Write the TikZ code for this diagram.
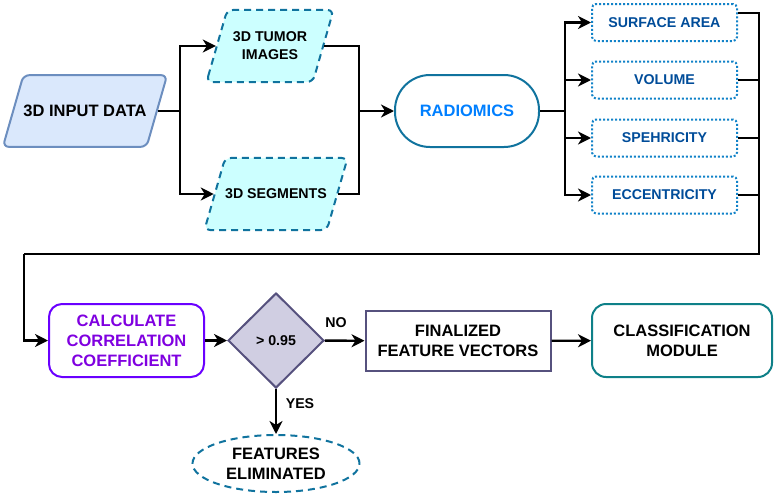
\documentclass[tikz,border=0pt]{standalone}
\usepackage{fontspec}
\setmainfont{Liberation Sans}
\usetikzlibrary{arrows.meta,shapes.geometric}

\definecolor{inFill}{HTML}{DAE8FC}
\definecolor{inLine}{HTML}{6C8EBF}
\definecolor{cyFill}{HTML}{CCFFFF}
\definecolor{cyLine}{HTML}{10739E}
\definecolor{radText}{HTML}{007FFF}
\definecolor{featLine}{HTML}{1182C8}
\definecolor{featText}{HTML}{004C99}
\definecolor{purLine}{HTML}{6A00FF}
\definecolor{purText}{HTML}{7F00E0}
\definecolor{decFill}{HTML}{D0CEE2}
\definecolor{decLine}{HTML}{56517E}
\definecolor{tealLine}{HTML}{0E8088}

\tikzset{
    big/.style={font=\fontsize{16.5}{20}\selectfont\bfseries, align=center},
    small/.style={font=\fontsize{14.2}{18}\selectfont\bfseries, align=center},
    para/.style={trapezium, trapezium left angle=74, trapezium right angle=106,
        trapezium stretches body=true, rounded corners=6pt, line width=2pt, inner xsep=0pt},
    featbox/.style={draw=featLine, line width=2pt, dash pattern=on 2pt off 2pt, rounded corners=4pt,
        minimum width=145pt, minimum height=37pt, text=featText,
        font=\fontsize{14.2}{17}\selectfont\bfseries},
    line/.style={line width=2.4pt},
    arr/.style={line width=2.4pt, -{Stealth[length=13pt,width=13pt,inset=4pt]}},
}

\begin{document}
\begin{tikzpicture}[x=1pt,y=-1pt]
    \useasboundingbox (0,0) rectangle (776,498);

    % input and its two parts
    \node[para, big, draw=inLine, fill=inFill, minimum width=163pt, inner ysep=30pt] (in) at (85,111) {3D INPUT DATA};
    \node[para, small, draw=cyLine, fill=cyFill, dash pattern=on 7pt off 5pt,
        minimum width=127pt, inner ysep=22pt] (tumor) at (270,46) {3D TUMOR\\IMAGES};
    \node[para, small, draw=cyLine, fill=cyFill, dash pattern=on 7pt off 5pt,
        minimum width=139pt, inner ysep=31pt] (seg) at (276,194) {3D SEGMENTS};

    \coordinate (j1) at (180,111);
    \coordinate (j2) at (359,111);
    \draw[line] (in) -- (j1);
    \draw[arr] (j1) |- (tumor);
    \draw[arr] (j1) |- (seg);
    \draw[line] (tumor) -| (j2);
    \draw[line] (seg) -| (j2);

    % radiomics features
    \node[big, draw=cyLine, line width=2pt, rounded corners=35pt, text=radText,
        minimum width=144pt, minimum height=72pt] (rad) at (467,111) {RADIOMICS};
    \draw[arr] (j2) -- (rad);

    \node[featbox] (sa) at (664.5,22.5) {SURFACE AREA};
    \node[featbox] (vol) at (664.5,80) {VOLUME};
    \node[featbox] (sph) at (664.5,138) {SPEHRICITY};
    \node[featbox] (ecc) at (664.5,195) {ECCENTRICITY};

    \coordinate (j3) at (565,111);
    \draw[line] (rad) -- (j3);
    \foreach \n in {sa,vol,sph,ecc}
        \draw[arr] (j3) |- (\n);

    \coordinate (k1) at (759,13);
    \coordinate (k2) at (24,254);
    \draw[line] ([yshift=9.5pt]sa.east) -- (k1) -- (k1 |- k2) -- (k2);
    \foreach \n in {vol,sph,ecc}
        \draw[line] (\n) -- (\n -| k1);

    % selection of features
    \node[big, draw=purLine, line width=2pt, rounded corners=13pt, text=purText,
        minimum width=155pt, minimum height=73pt] (calc) at (126.5,340.5) {CALCULATE\\CORRELATION\\COEFFICIENT};
    \draw[arr] (k2) |- (calc);

    \node[diamond, small, draw=decLine, fill=decFill, line width=2pt, inner sep=0pt,
        minimum width=96pt, minimum height=95pt] (dec) at (276,340.5) {> 0.95};
    \draw[arr] (calc) -- (dec);

    \node[big, draw=decLine, line width=2pt, minimum width=185pt, minimum height=60pt] (fin) at (458,341) {FINALIZED\\FEATURE VECTORS};
    \node[big, draw=tealLine, line width=2pt, rounded corners=14pt,
        minimum width=180pt, minimum height=73pt] (cls) at (682,340.5) {CLASSIFICATION\\MODULE};
    \node[ellipse, big, draw=cyLine, line width=2pt, dash pattern=on 7pt off 5pt, inner sep=0pt,
        minimum width=167pt, minimum height=57pt] (elim) at (276,463.5) {FEATURES\\ELIMINATED};

    \node[small] (no) at (336,323) {NO};
    \node[small] (yes) at (300,404) {YES};

    \draw[arr] (dec) -- (fin);
    \draw[arr] (fin) -- (cls);
    \draw[arr] (dec) -- (elim);
\end{tikzpicture}
\end{document}
